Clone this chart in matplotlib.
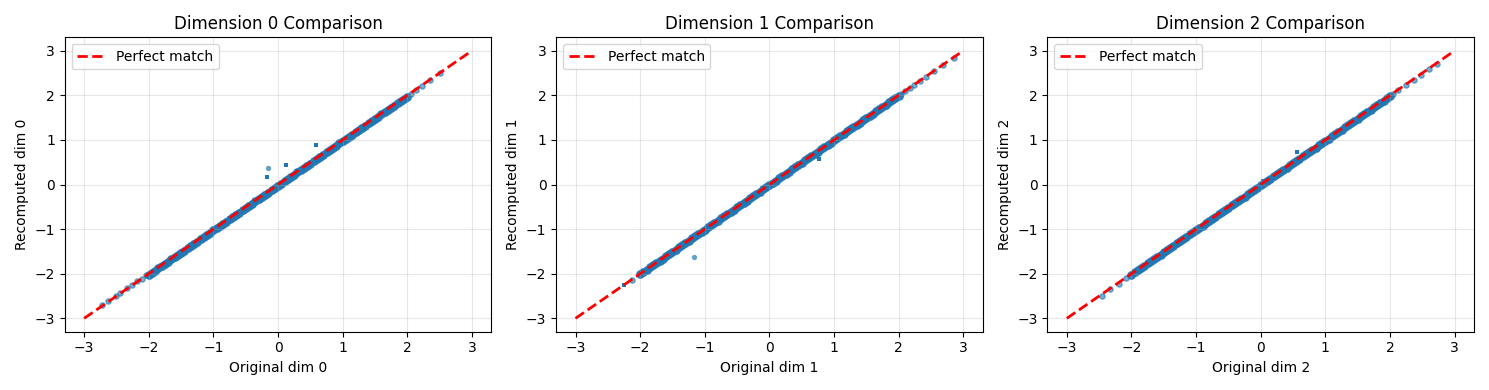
import matplotlib
matplotlib.use("Agg")
import matplotlib.pyplot as plt

# original vs recomputed values, per dimension
dim0_x = [-2.72, -2.63, -2.51, -2.44, -2.33, -2.26, -2.18, -2.11, -2.04, -1.98,
          -1.93, -1.87, -1.82, -1.77, -1.71, -1.66, -1.61, -1.56, -1.51, -1.46,
          -1.41, -1.36, -1.31, -1.26, -1.21, -1.16, -1.11, -1.06, -1.01, -0.96,
          -0.91, -0.86, -0.81, -0.76, -0.71, -0.66, -0.61, -0.56, -0.51, -0.46,
          -0.41, -0.36, -0.31, -0.26, -0.21, -0.16, -0.11, -0.06, -0.01, 0.04,
          0.09, 0.14, 0.19, 0.24, 0.29, 0.34, 0.39, 0.44, 0.49, 0.54,
          0.59, 0.64, 0.69, 0.74, 0.79, 0.84, 0.89, 0.94, 0.99, 1.04,
          1.09, 1.14, 1.19, 1.24, 1.29, 1.34, 1.39, 1.44, 1.49, 1.54,
          1.59, 1.64, 1.69, 1.74, 1.81, 1.88, 1.96, 2.05, 2.14, 2.22,
          2.35, 2.50]
dim0_y = [-2.70, -2.62, -2.50, -2.44, -2.32, -2.25, -2.17, -2.11, -2.03, -1.99,
          -1.94, -1.88, -1.82, -1.78, -1.72, -1.66, -1.62, -1.57, -1.51, -1.47,
          -1.42, -1.36, -1.32, -1.27, -1.21, -1.17, -1.12, -1.06, -1.02, -0.97,
          -0.92, -0.86, -0.82, -0.77, -0.71, -0.67, -0.62, -0.57, -0.52, -0.47,
          -0.42, -0.37, -0.32, -0.27, -0.22, -0.17, -0.12, -0.07, -0.02, 0.03,
          0.08, 0.13, 0.18, 0.23, 0.28, 0.33, 0.38, 0.43, 0.48, 0.53,
          0.58, 0.63, 0.68, 0.73, 0.78, 0.83, 0.88, 0.93, 0.98, 1.03,
          1.08, 1.13, 1.18, 1.23, 1.28, 1.33, 1.38, 1.43, 1.48, 1.53,
          1.58, 1.63, 1.68, 1.73, 1.80, 1.87, 1.95, 2.04, 2.13, 2.21,
          2.34, 2.49]

dim1_x = [-2.12, -1.97, -1.92, -1.87, -1.82, -1.77, -1.72, -1.67, -1.62, -1.57,
          -1.52, -1.47, -1.42, -1.37, -1.32, -1.27, -1.22, -1.17, -1.12, -1.07,
          -1.02, -0.97, -0.92, -0.87, -0.82, -0.77, -0.72, -0.67, -0.62, -0.57,
          -0.52, -0.47, -0.42, -0.37, -0.32, -0.27, -0.22, -0.17, -0.12, -0.07,
          -0.02, 0.03, 0.08, 0.13, 0.18, 0.23, 0.28, 0.33, 0.38, 0.43,
          0.48, 0.53, 0.58, 0.63, 0.68, 0.73, 0.78, 0.83, 0.88, 0.93,
          0.98, 1.03, 1.08, 1.13, 1.18, 1.23, 1.28, 1.33, 1.38, 1.43,
          1.48, 1.53, 1.58, 1.63, 1.68, 1.73, 1.78, 1.83, 1.88, 1.93,
          1.98, 2.04, 2.10, 2.17, 2.24, 2.33, 2.42, 2.55, 2.68, 2.85]
dim1_y = [-2.13, -1.98, -1.93, -1.88, -1.83, -1.78, -1.73, -1.68, -1.63, -1.58,
          -1.53, -1.48, -1.43, -1.38, -1.33, -1.28, -1.23, -1.18, -1.13, -1.08,
          -1.03, -0.98, -0.93, -0.88, -0.83, -0.78, -0.73, -0.68, -0.63, -0.58,
          -0.53, -0.48, -0.43, -0.38, -0.33, -0.28, -0.23, -0.18, -0.13, -0.08,
          -0.03, 0.02, 0.07, 0.12, 0.17, 0.22, 0.27, 0.32, 0.37, 0.42,
          0.47, 0.52, 0.57, 0.62, 0.67, 0.72, 0.77, 0.82, 0.87, 0.92,
          0.97, 1.02, 1.07, 1.12, 1.17, 1.22, 1.27, 1.32, 1.37, 1.42,
          1.47, 1.52, 1.57, 1.62, 1.67, 1.72, 1.77, 1.82, 1.87, 1.92,
          1.97, 2.03, 2.09, 2.16, 2.23, 2.32, 2.41, 2.54, 2.67, 2.84]

dim2_x = [-2.46, -2.33, -2.20, -2.08, -1.97, -1.91, -1.86, -1.81, -1.76, -1.71,
          -1.66, -1.61, -1.56, -1.51, -1.46, -1.41, -1.36, -1.31, -1.26, -1.21,
          -1.16, -1.11, -1.06, -1.01, -0.96, -0.91, -0.86, -0.81, -0.76, -0.71,
          -0.66, -0.61, -0.56, -0.51, -0.46, -0.41, -0.36, -0.31, -0.26, -0.21,
          -0.16, -0.11, -0.06, -0.01, 0.04, 0.09, 0.14, 0.19, 0.24, 0.29,
          0.34, 0.39, 0.44, 0.49, 0.54, 0.59, 0.64, 0.69, 0.74, 0.79,
          0.84, 0.89, 0.94, 0.99, 1.04, 1.09, 1.14, 1.19, 1.24, 1.29,
          1.34, 1.39, 1.44, 1.49, 1.54, 1.59, 1.64, 1.69, 1.74, 1.79,
          1.84, 1.89, 1.94, 1.99, 2.05, 2.13, 2.25, 2.37, 2.48, 2.60,
          2.73]
dim2_y = [-2.49, -2.35, -2.22, -2.10, -1.99, -1.93, -1.88, -1.83, -1.78, -1.73,
          -1.68, -1.63, -1.58, -1.53, -1.48, -1.43, -1.38, -1.33, -1.28, -1.23,
          -1.18, -1.13, -1.08, -1.03, -0.98, -0.93, -0.88, -0.83, -0.78, -0.73,
          -0.68, -0.63, -0.58, -0.53, -0.48, -0.43, -0.38, -0.33, -0.28, -0.23,
          -0.18, -0.13, -0.08, -0.03, 0.02, 0.07, 0.12, 0.17, 0.22, 0.27,
          0.32, 0.37, 0.42, 0.47, 0.52, 0.57, 0.62, 0.67, 0.72, 0.77,
          0.82, 0.87, 0.92, 0.97, 1.02, 1.07, 1.12, 1.17, 1.22, 1.27,
          1.32, 1.37, 1.42, 1.47, 1.52, 1.57, 1.62, 1.67, 1.72, 1.77,
          1.82, 1.87, 1.92, 1.97, 2.03, 2.11, 2.23, 2.35, 2.46, 2.58,
          2.71]

# second, denser row of points in the core of each band
core_x = [-2.00, -1.95, -1.90, -1.85, -1.80, -1.75, -1.70, -1.65, -1.60, -1.55,
          -1.50, -1.45, -1.40, -1.35, -1.30, -1.25, -1.20, -1.15, -1.10, -1.05,
          -1.00, -0.95, -0.90, -0.85, -0.80, -0.75, -0.70, -0.65, -0.60, -0.55,
          -0.50, -0.45, -0.40, -0.35, -0.30, -0.25, -0.20, -0.15, -0.10, -0.05,
          0.00, 0.05, 0.10, 0.15, 0.20, 0.25, 0.30, 0.35, 0.40, 0.45,
          0.50, 0.55, 0.60, 0.65, 0.70, 0.75, 0.80, 0.85, 0.90, 0.95,
          1.00, 1.05, 1.10, 1.15, 1.20, 1.25, 1.30, 1.35, 1.40, 1.45,
          1.50, 1.55, 1.60, 1.65, 1.70, 1.75, 1.80, 1.85, 1.90, 1.95,
          2.00]
core0_y = [-2.03, -1.98, -1.93, -1.88, -1.83, -1.78, -1.73, -1.68, -1.63, -1.58,
           -1.53, -1.48, -1.43, -1.38, -1.33, -1.28, -1.23, -1.18, -1.13, -1.08,
           -1.03, -0.98, -0.93, -0.88, -0.83, -0.78, -0.73, -0.68, -0.63, -0.58,
           -0.53, -0.48, -0.43, -0.38, -0.33, -0.28, -0.23, -0.18, -0.13, -0.08,
           -0.03, 0.02, 0.07, 0.12, 0.17, 0.22, 0.27, 0.32, 0.37, 0.42,
           0.47, 0.52, 0.57, 0.62, 0.67, 0.72, 0.77, 0.82, 0.87, 0.92,
           0.97, 1.02, 1.07, 1.12, 1.17, 1.22, 1.27, 1.32, 1.37, 1.42,
           1.47, 1.52, 1.57, 1.62, 1.67, 1.72, 1.77, 1.82, 1.87, 1.92,
           1.97]
core1_y = [-2.01, -1.96, -1.91, -1.86, -1.81, -1.76, -1.71, -1.66, -1.61, -1.56,
           -1.51, -1.46, -1.41, -1.36, -1.31, -1.26, -1.21, -1.16, -1.11, -1.06,
           -1.01, -0.96, -0.91, -0.86, -0.81, -0.76, -0.71, -0.66, -0.61, -0.56,
           -0.51, -0.46, -0.41, -0.36, -0.31, -0.26, -0.21, -0.16, -0.11, -0.06,
           -0.01, 0.04, 0.09, 0.14, 0.19, 0.24, 0.29, 0.34, 0.39, 0.44,
           0.49, 0.54, 0.59, 0.64, 0.69, 0.74, 0.79, 0.84, 0.89, 0.94,
           0.99, 1.04, 1.09, 1.14, 1.19, 1.24, 1.29, 1.34, 1.39, 1.44,
           1.49, 1.54, 1.59, 1.64, 1.69, 1.74, 1.79, 1.84, 1.89, 1.94,
           1.99]
core2_y = [-2.02, -1.97, -1.92, -1.87, -1.82, -1.77, -1.72, -1.67, -1.62, -1.57,
           -1.52, -1.47, -1.42, -1.37, -1.32, -1.27, -1.22, -1.17, -1.12, -1.07,
           -1.02, -0.97, -0.92, -0.87, -0.82, -0.77, -0.72, -0.67, -0.62, -0.57,
           -0.52, -0.47, -0.42, -0.37, -0.32, -0.27, -0.22, -0.17, -0.12, -0.07,
           -0.02, 0.03, 0.08, 0.13, 0.18, 0.23, 0.28, 0.33, 0.38, 0.43,
           0.48, 0.53, 0.58, 0.63, 0.68, 0.73, 0.78, 0.83, 0.88, 0.93,
           0.98, 1.03, 1.08, 1.13, 1.18, 1.23, 1.28, 1.33, 1.38, 1.43,
           1.48, 1.53, 1.58, 1.63, 1.68, 1.73, 1.78, 1.83, 1.88, 1.93,
           1.98]

# stray points off the diagonal
odd0_x = [-0.15]
odd0_y = [0.37]
sq0_x = [-0.17, 0.12, 0.58, 1.57]
sq0_y = [0.16, 0.44, 0.89, 1.59]

odd1_x = [-1.16]
odd1_y = [-1.62]
sq1_x = [0.77, -2.25, -1.00, -0.34]
sq1_y = [0.57, -2.26, -1.06, -0.36]

odd2_x = []
odd2_y = []
sq2_x = [0.56, 0.03, -1.10, -1.50]
sq2_y = [0.73, 0.07, -1.08, -1.52]

panels = [
    (dim0_x, dim0_y, core0_y, odd0_x, odd0_y, sq0_x, sq0_y),
    (dim1_x, dim1_y, core1_y, odd1_x, odd1_y, sq1_x, sq1_y),
    (dim2_x, dim2_y, core2_y, odd2_x, odd2_y, sq2_x, sq2_y),
]

fig, axes = plt.subplots(1, 3, figsize=(14.89, 3.9), dpi=100)

for i, (ax, p) in enumerate(zip(axes, panels)):
    xs, ys, cy, ox, oy, sx, sy = p
    ax.scatter(xs, ys, s=14, alpha=0.6, color='C0')
    ax.scatter(core_x, cy, s=28, alpha=0.9, color='C0')
    ax.scatter(ox, oy, s=8, alpha=0.6, color='C0')
    ax.scatter(sx, sy, s=12, marker='s', color='C0', linewidths=0)
    ax.plot([-3, 3], [-3, 3], 'r--', lw=2, label='Perfect match')
    ax.set_xlabel('Original dim %d' % i)
    ax.set_ylabel('Recomputed dim %d' % i)
    ax.set_title('Dimension %d Comparison' % i)
    ax.legend(loc='upper left')
    ax.grid(True, alpha=0.3)

plt.tight_layout()
plt.savefig('out.png')
